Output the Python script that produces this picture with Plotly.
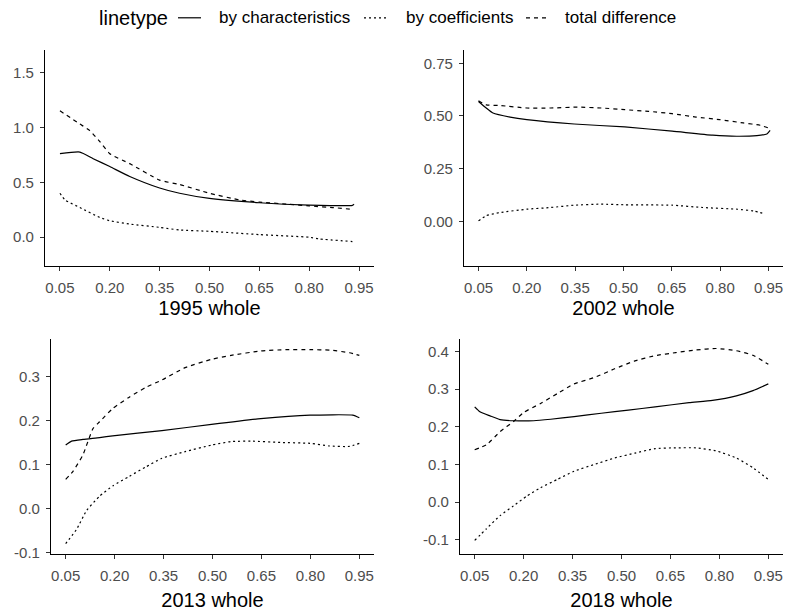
import plotly.graph_objects as go

# ---------------- data ----------------
panel_titles = ["1995 whole", "2002 whole", "2013 whole", "2018 whole"]
series_names = ["by characteristics", "by coefficients", "total difference"]
x_ticks = [0.05, 0.20, 0.35, 0.50, 0.65, 0.80, 0.95]
x_tick_text = ["0.05", "0.20", "0.35", "0.50", "0.65", "0.80", "0.95"]

# 1995
q95_char = [0.05, 0.11, 0.15, 0.20, 0.26, 0.35, 0.41, 0.50, 0.65, 0.80, 0.93, 0.935]
v95_char = [0.76, 0.775, 0.715, 0.643, 0.553, 0.448, 0.40, 0.353, 0.314, 0.293, 0.29, 0.30]
q95_coef = [0.05, 0.065, 0.11, 0.17, 0.20, 0.26, 0.35, 0.41, 0.50, 0.65, 0.80, 0.83, 0.93]
v95_coef = [0.40, 0.34, 0.27, 0.18, 0.15, 0.12, 0.09, 0.066, 0.054, 0.024, 0.0, -0.015, -0.039]
q95_tot = [0.05, 0.11, 0.14, 0.17, 0.20, 0.26, 0.35, 0.41, 0.50, 0.59, 0.65, 0.74, 0.80, 0.87, 0.93]
v95_tot = [1.15, 1.03, 0.97, 0.87, 0.76, 0.67, 0.52, 0.48, 0.40, 0.34, 0.32, 0.30, 0.285, 0.27, 0.254]

# 2002
q02_char = [0.05, 0.074, 0.095, 0.148, 0.20, 0.347, 0.504, 0.651, 0.777, 0.851, 0.914, 0.945, 0.955]
v02_char = [0.569, 0.538, 0.514, 0.495, 0.483, 0.462, 0.448, 0.428, 0.409, 0.404, 0.407, 0.415, 0.432]
q02_coef = [0.05, 0.074, 0.116, 0.20, 0.274, 0.347, 0.431, 0.504, 0.651, 0.746, 0.851, 0.903, 0.94]
v02_coef = [0.003, 0.027, 0.042, 0.058, 0.066, 0.077, 0.082, 0.079, 0.077, 0.066, 0.058, 0.05, 0.035]
q02_tot = [0.05, 0.074, 0.116, 0.20, 0.274, 0.357, 0.431, 0.504, 0.578, 0.651, 0.725, 0.798, 0.872, 0.924, 0.95]
v02_tot = [0.572, 0.553, 0.55, 0.538, 0.538, 0.542, 0.538, 0.53, 0.522, 0.511, 0.495, 0.483, 0.467, 0.456, 0.443]

# 2013
q13_char = [0.05, 0.068, 0.103, 0.154, 0.194, 0.345, 0.497, 0.648, 0.799, 0.93, 0.95]
v13_char = [0.144, 0.153, 0.157, 0.161, 0.165, 0.177, 0.191, 0.204, 0.212, 0.212, 0.206]
q13_coef = [0.05, 0.083, 0.114, 0.154, 0.194, 0.245, 0.295, 0.345, 0.416, 0.497, 0.557, 0.618, 0.708, 0.799, 0.859, 0.92, 0.95]
v13_coef = [-0.08, -0.048, -0.005, 0.028, 0.051, 0.073, 0.094, 0.114, 0.129, 0.144, 0.152, 0.153, 0.15, 0.148, 0.142, 0.141, 0.148]
q13_tot = [0.05, 0.073, 0.103, 0.134, 0.154, 0.194, 0.245, 0.295, 0.345, 0.416, 0.497, 0.557, 0.648, 0.728, 0.799, 0.859, 0.92, 0.95]
v13_tot = [0.066, 0.085, 0.122, 0.182, 0.197, 0.227, 0.253, 0.275, 0.292, 0.32, 0.339, 0.348, 0.358, 0.361, 0.361, 0.36, 0.354, 0.348]

# 2018
q18_char = [0.05, 0.066, 0.097, 0.128, 0.169, 0.231, 0.283, 0.355, 0.438, 0.521, 0.603, 0.707, 0.779, 0.852, 0.903, 0.95]
v18_char = [0.253, 0.24, 0.229, 0.219, 0.216, 0.216, 0.22, 0.227, 0.236, 0.244, 0.253, 0.264, 0.27, 0.282, 0.296, 0.314]
q18_coef = [0.05, 0.086, 0.128, 0.169, 0.21, 0.252, 0.303, 0.355, 0.417, 0.479, 0.541, 0.603, 0.666, 0.728, 0.79, 0.852, 0.903, 0.95]
v18_coef = [-0.102, -0.071, -0.036, -0.01, 0.016, 0.038, 0.06, 0.082, 0.10, 0.117, 0.13, 0.142, 0.144, 0.144, 0.136, 0.117, 0.091, 0.06]
q18_tot = [0.05, 0.086, 0.128, 0.169, 0.20, 0.252, 0.303, 0.355, 0.417, 0.479, 0.541, 0.603, 0.666, 0.728, 0.79, 0.852, 0.903, 0.95]
v18_tot = [0.139, 0.152, 0.187, 0.214, 0.238, 0.262, 0.288, 0.314, 0.331, 0.354, 0.375, 0.389, 0.397, 0.404, 0.408, 0.402, 0.39, 0.366]

y_ticks = [
    [0.0, 0.5, 1.0, 1.5],
    [0.0, 0.25, 0.50, 0.75],
    [-0.1, 0.0, 0.1, 0.2, 0.3],
    [-0.1, 0.0, 0.1, 0.2, 0.3, 0.4],
]
y_tick_text = [
    ["0.0", "0.5", "1.0", "1.5"],
    ["0.00", "0.25", "0.50", "0.75"],
    ["-0.1", "0.0", "0.1", "0.2", "0.3"],
    ["-0.1", "0.0", "0.1", "0.2", "0.3", "0.4"],
]
y_ranges = [[-0.261, 1.70], [-0.211, 0.811], [-0.1027, 0.385], [-0.137, 0.433]]
x_range = [0.005, 0.995]

panels = [
    [(q95_char, v95_char), (q95_coef, v95_coef), (q95_tot, v95_tot)],
    [(q02_char, v02_char), (q02_coef, v02_coef), (q02_tot, v02_tot)],
    [(q13_char, v13_char), (q13_coef, v13_coef), (q13_tot, v13_tot)],
    [(q18_char, v18_char), (q18_coef, v18_coef), (q18_tot, v18_tot)],
]

# ---------------- styling / layout ----------------
W, H = 787, 613
dashes = ["solid", "2px,3px", "4px,4px"]
# panel boxes in pixels: (left, right, top, bottom)
boxes = [(45, 374, 51, 269), (464, 783, 51, 269), (51, 374, 343, 560), (460, 783, 343, 560)]
title_standoff = [6, 6, 10, 10]

FONT = "Liberation Sans, Arial, sans-serif"
TICK_FONT = dict(family=FONT, size=15, color="#4D4D4D")
TITLE_FONT = dict(family=FONT, size=20, color="black")

fig = go.Figure()
layout = dict(
    width=W, height=H, margin=dict(l=0, r=0, t=0, b=0),
    paper_bgcolor="white", plot_bgcolor="white", showlegend=False,
)

for i, (series, box) in enumerate(zip(panels, boxes)):
    n = "" if i == 0 else str(i + 1)
    for (qx, vy), name, dash in zip(series, series_names, dashes):
        fig.add_trace(go.Scatter(
            x=qx, y=vy, mode="lines", name=name,
            line=dict(color="black", width=1.2, dash=dash, shape="spline", smoothing=0.5),
            xaxis="x" + n, yaxis="y" + n, showlegend=False,
        ))
    l, r, t, b = box
    layout["xaxis" + n] = dict(
        domain=[l / W, r / W], anchor="y" + n, range=x_range,
        tickmode="array", tickvals=x_ticks, ticktext=x_tick_text,
        showline=True, linecolor="black", linewidth=1.1,
        ticks="outside", ticklen=4, tickcolor="#333333", tickwidth=1.1,
        showgrid=False, zeroline=False, tickfont=TICK_FONT,
        title=dict(text=panel_titles[i], font=TITLE_FONT, standoff=title_standoff[i]),
        ticklabelstandoff=4,
    )
    layout["yaxis" + n] = dict(
        domain=[1 - b / H, 1 - t / H], anchor="x" + n, range=y_ranges[i],
        tickmode="array", tickvals=y_ticks[i], ticktext=y_tick_text[i],
        showline=True, linecolor="black", linewidth=1.1,
        ticks="outside", ticklen=4, tickcolor="#333333", tickwidth=1.1,
        showgrid=False, zeroline=False, tickfont=TICK_FONT,
        ticklabelstandoff=3,
    )

fig.update_layout(**layout)

# ---------------- legend (drawn as text + key lines) ----------------
legend_title = "linetype"
legend_y = 1 - 18 / H
fig.add_annotation(x=97 / W, y=legend_y, xref="paper", yref="paper", text=legend_title,
                   showarrow=False, xanchor="left", yanchor="middle",
                   font=dict(family=FONT, size=20, color="black"))
key_spans = [(178, 201), (364, 387), (526, 549)]
label_left = [217, 404, 563]
for name, dash, (k0, k1), lx in zip(series_names, dashes, key_spans, label_left):
    fig.add_shape(type="line", xref="paper", yref="paper", x0=k0 / W, x1=k1 / W,
                  y0=legend_y, y1=legend_y, line=dict(color="black", width=1.2, dash=dash))
    fig.add_annotation(x=lx / W, y=legend_y, xref="paper", yref="paper", text=name,
                       showarrow=False, xanchor="left", yanchor="middle",
                       font=dict(family=FONT, size=17, color="black"))

fig.write_html("out.html")
